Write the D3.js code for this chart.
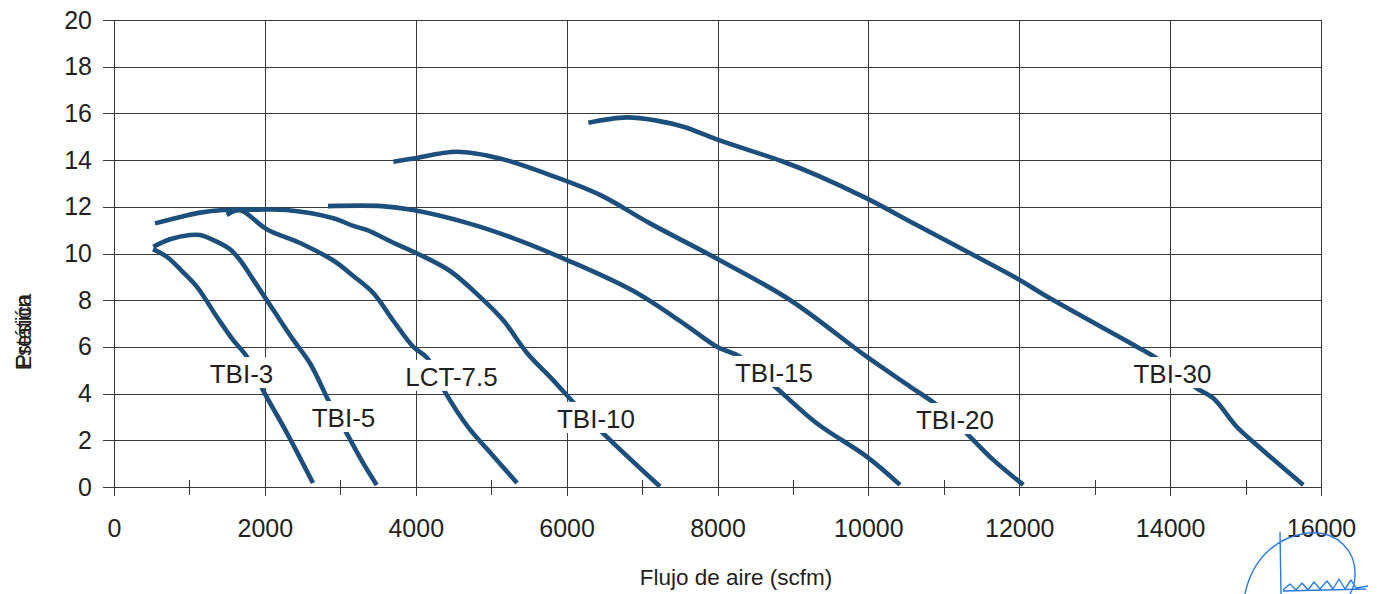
<!DOCTYPE html>
<html><head><meta charset="utf-8">
<script src="https://cdn.jsdelivr.net/npm/d3@7"></script>
<style>
body{margin:0;background:#fff}
svg{display:block}
text{font-family:"Liberation Sans",Arial,Helvetica,sans-serif;fill:#231f20}
</style>
</head><body>
<svg id="chart" width="1384" height="594"></svg>
<script>
// ---------- data ----------
const seriesNames = ["TBI-3","TBI-5","LCT-7.5","TBI-10","TBI-15","TBI-20","TBI-30"];

const tbi3X  = [517, 703, 900, 1100, 1365, 1577, 1763, 1975, 2293, 2638];
const tbi3Y  = [10.19, 9.85, 9.25, 8.57, 7.28, 6.30, 5.57, 4.15, 2.31, 0.17];

const tbi5X  = [521, 742, 1007, 1140, 1361, 1538, 1670, 1847, 2112, 2377, 2598, 2863, 3085, 3305, 3482];
const tbi5Y  = [10.29, 10.61, 10.79, 10.79, 10.51, 10.18, 9.72, 8.87, 7.58, 6.30, 5.30, 3.58, 2.30, 1.01, 0.09];

const lct75X = [1494, 1670, 2024, 2466, 2907, 3172, 3437, 3703, 3968, 4154, 4374, 4692, 4957, 5343];
const lct75Y = [11.65, 11.85, 11.04, 10.45, 9.70, 9.04, 8.31, 7.12, 6.00, 5.52, 4.15, 2.57, 1.58, 0.17];

const tbi10X = [543, 919, 1140, 1449, 1900, 2289, 2907, 3172, 3349, 3703, 4012, 4454, 4852, 5157, 5475, 5820, 6085, 6482, 7238];
const tbi10Y = [11.29, 11.60, 11.75, 11.86, 11.88, 11.86, 11.51, 11.18, 11.01, 10.46, 10.01, 9.25, 8.14, 7.15, 5.74, 4.58, 3.64, 2.31, 0.02];

const tbi15X = [2837, 3553, 3964, 4679, 5289, 6005, 6880, 7543, 7990, 8298, 8785, 9315, 9978, 10419];
const tbi15Y = [12.03, 12.03, 11.86, 11.31, 10.66, 9.72, 8.40, 7.02, 6.01, 5.58, 4.23, 2.73, 1.30, 0.09];

const tbi20X = [3703, 3968, 4543, 5117, 5780, 6442, 7105, 7945, 8961, 9978, 10552, 10906, 11347, 11656, 12054];
const tbi20Y = [13.93, 14.07, 14.36, 14.07, 13.36, 12.51, 11.29, 9.86, 8.01, 5.58, 4.30, 3.51, 2.15, 1.16, 0.09];

const tbi30X = [6288, 6796, 7194, 7547, 7990, 8873, 9315, 9978, 10640, 11436, 11966, 12408, 13557, 13822, 14352, 14573, 14883, 15148, 15765];
const tbi30Y = [15.60, 15.83, 15.69, 15.43, 14.89, 13.93, 13.36, 12.36, 11.22, 9.86, 8.94, 8.08, 6.01, 5.51, 4.23, 3.80, 2.58, 1.80, 0.09];

// label anchor points (data units: scfm, pressure)
const labelX = [1690, 3042, 4474, 6389, 8749, 11148, 14031];
const labelY = [4.45, 2.57, 4.33, 2.53, 4.50, 2.48, 4.45];

const xTicks      = [0, 2000, 4000, 6000, 8000, 10000, 12000, 14000, 16000];
const xMinorTicks = [1000, 3000, 5000, 7000, 9000, 11000, 13000, 15000];
const yTicks      = [0, 2, 4, 6, 8, 10, 12, 14, 16, 18, 20];
const xTitle = "Flujo de aire (scfm)";
const yTitleWords = ["Presión", "Estática"];

// ---------- layout ----------
const X0 = 114, X1 = 1321, Y0 = 487, Y1 = 20;
const lineColor = "#1d4f7c";
const gridColor = "#3a3a3a";

const svg = d3.select("#chart");
const x = d3.scaleLinear().domain([0, 16000]).range([X0, X1]);
const y = d3.scaleLinear().domain([0, 20]).range([Y0, Y1]);

// grid (horizontal)
const grid = svg.append("g").attr("stroke", gridColor).attr("stroke-width", 1.3).attr("shape-rendering","crispEdges");
grid.selectAll("line.h").data(yTicks).join("line")
  .attr("x1", X0 - 11).attr("x2", X1)
  .attr("y1", d => Math.round(y(d)) + 0.5).attr("y2", d => Math.round(y(d)) + 0.5);
// grid (vertical)
grid.selectAll("line.v").data(xTicks).join("line").attr("class","v")
  .attr("x1", d => Math.round(x(d)) + 0.5).attr("x2", d => Math.round(x(d)) + 0.5)
  .attr("y1", Y1).attr("y2", Y0 + 9);
// minor ticks
grid.selectAll("line.m").data(xMinorTicks).join("line").attr("class","m")
  .attr("x1", d => Math.round(x(d)) + 0.5).attr("x2", d => Math.round(x(d)) + 0.5)
  .attr("y1", Y0 - 7).attr("y2", Y0 + 8);

// axes labels via d3 axes (no domain / tick lines)
const yAxis = svg.append("g").attr("transform", `translate(${X0 - 22},0)`)
  .call(d3.axisLeft(y).tickValues(yTicks).tickSize(0).tickPadding(0));
yAxis.select(".domain").remove();
yAxis.selectAll("text").attr("font-size", 25).attr("font-family", "Liberation Sans, Arial, sans-serif").attr("fill", "#231f20");

const xAxis = svg.append("g").attr("transform", `translate(0,${Y0})`)
  .call(d3.axisBottom(x).tickValues(xTicks).tickSize(0).tickPadding(0).tickFormat(d3.format("d")));
xAxis.select(".domain").remove();
xAxis.selectAll("text").attr("font-size", 25).attr("font-family", "Liberation Sans, Arial, sans-serif")
  .attr("fill", "#231f20").attr("dy", null).attr("y", 50);

// curves
const allX = [tbi3X, tbi5X, lct75X, tbi10X, tbi15X, tbi20X, tbi30X];
const allY = [tbi3Y, tbi5Y, lct75Y, tbi10Y, tbi15Y, tbi20Y, tbi30Y];
const series = seriesNames.map((name, i) => ({
  name, pts: allX[i].map((v, j) => [v, allY[i][j]]), lx: labelX[i], ly: labelY[i]
}));
const line = d3.line().x(d => x(d[0])).y(d => y(d[1])).curve(d3.curveCatmullRom.alpha(0.5));
svg.append("g").selectAll("path").data(series).join("path")
  .attr("d", d => line(d.pts))
  .attr("fill", "none").attr("stroke", lineColor).attr("stroke-width", 4.6)
  .attr("stroke-linejoin", "round").attr("stroke-linecap", "butt");

// curve labels with white background
const lab = svg.append("g").selectAll("g").data(series).join("g");
lab.append("text")
  .attr("x", d => x(d.lx)).attr("y", d => y(d.ly))
  .attr("text-anchor", "middle").attr("font-size", 26).text(d => d.name);
lab.each(function() {
  const g = d3.select(this);
  const bb = g.select("text").node().getBBox();
  g.insert("rect", "text").attr("x", bb.x - 4).attr("y", bb.y - 2)
    .attr("width", bb.width + 8).attr("height", bb.height + 1).attr("fill", "#fff");
});

// axis titles
svg.append("text").attr("x", 736).attr("y", 585).attr("text-anchor", "middle")
  .attr("font-size", 22.5).text(xTitle);
const yt = svg.append("g").attr("transform", "translate(31,332) rotate(-90)");
yt.selectAll("text").data(yTitleWords).join("text")
  .attr("text-anchor", "middle").attr("font-size", 21.5).text(d => d);

// handwritten signature (decoration)
const sig = d3.path();
sig.moveTo(1245, 594);
sig.bezierCurveTo(1252, 560, 1275, 537, 1308, 533);
sig.bezierCurveTo(1338, 530, 1356, 552, 1355, 575);
sig.bezierCurveTo(1355, 583, 1353, 589, 1350, 594);
sig.moveTo(1280, 532); sig.lineTo(1281, 594);
sig.moveTo(1283, 590);
[[1290,584],[1296,590],[1302,583],[1308,590],[1314,582],[1320,589],[1327,581],[1333,589],[1339,579],[1345,589],[1351,580],[1356,588],[1368,586]]
  .forEach(p => sig.lineTo(p[0], p[1]));
sig.moveTo(1283, 591); sig.lineTo(1366, 589);
svg.append("path").attr("d", sig.toString()).attr("fill", "none")
  .attr("stroke", "#2b7be3").attr("stroke-width", 1.4).attr("stroke-linejoin","round");
</script>
</body></html>
